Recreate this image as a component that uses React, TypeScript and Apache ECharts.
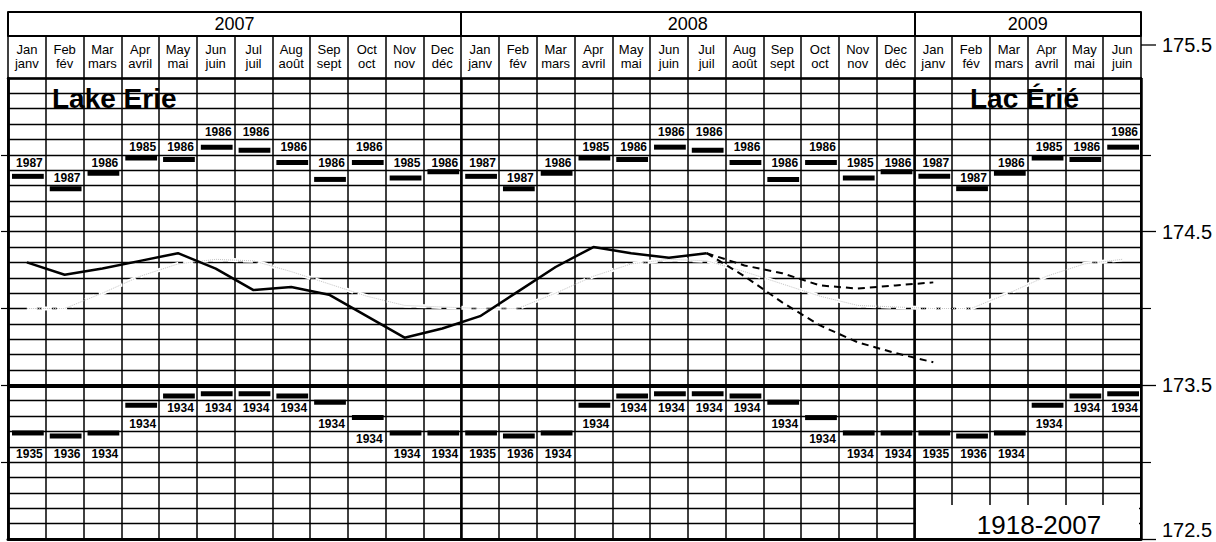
import React, { useEffect, useRef } from 'react';
import * as echarts from 'echarts';

// ---------- data ----------
const monthNames = ['Jan\njanv', 'Feb\nfév', 'Mar\nmars', 'Apr\navril', 'May\nmai', 'Jun\njuin', 'Jul\njuil', 'Aug\naoût', 'Sep\nsept', 'Oct\noct', 'Nov\nnov', 'Dec\ndéc'];
const years = ['2007', '2008', '2009'];
const monthsPerYear = [12, 12, 6];

// record monthly highs / lows 1918-2007 (m, IGLD 1985) and the year they occurred
const recordHigh = [174.86, 174.78, 174.88, 174.98, 174.97, 175.05, 175.03, 174.95, 174.84, 174.95, 174.85, 174.89];
const recordHighYear = ['1987', '1987', '1986', '1985', '1986', '1986', '1986', '1986', '1986', '1986', '1985', '1986'];
const recordLow = [173.19, 173.17, 173.19, 173.37, 173.43, 173.445, 173.445, 173.43, 173.39, 173.29, 173.19, 173.19];
const recordLowYear = ['1935', '1936', '1934', '1934', '1934', '1934', '1934', '1934', '1934', '1934', '1934', '1934'];

// long-term monthly mean 1918-2007
const longTermMean = [174.0, 174.0, 174.1, 174.21, 174.29, 174.32, 174.31, 174.24, 174.16, 174.08, 174.02, 174.01];

// recorded monthly mean levels, Jan 2007 - Jul 2008
const recorded = [174.30, 174.22, 174.26, 174.31, 174.36, 174.26, 174.12, 174.14, 174.09, 173.95, 173.81, 173.87,
  173.95, 174.11, 174.27, 174.40, 174.36, 174.33, 174.36];
// forecast envelopes, Jul 2008 - Jan 2009
const forecastStart = 18;
const forecastUpper = [174.36, 174.28, 174.23, 174.15, 174.13, 174.15, 174.17];
const forecastLower = [174.36, 174.21, 174.04, 173.89, 173.78, 173.71, 173.65];

const yTickLabels = [172.5, 173.5, 174.5, 175.5];
const yMajorTicks = [172.5, 173.5, 174.5];
const yMinorTicks = [173, 174, 175];
const yLeftTicks = [173, 173.5, 174, 174.5, 175];
const titleEn = 'Lake Erie';
const titleFr = 'Lac Érié';
const periodLabel = '1918-2007';

// ---------- derived ----------
const cats: string[] = [];
years.forEach((y, k) => {
  for (let m = 0; m < monthsPerYear[k]; m++) cats.push(`${y}-${m + 1}`);
});
const nMonths = cats.length;
const yearBounds: number[] = [0];
monthsPerYear.forEach((n, k) => yearBounds.push(yearBounds[k] + n));
const yearCenters = monthsPerYear.map((n, k) => yearBounds[k] + n / 2);

const meanData = cats.map((_, i) => longTermMean[i % 12]);
const recordedData = cats.map((_, i) => (i < recorded.length ? recorded[i] : null));
const fcData = (arr: number[]) =>
  cats.map((_, i) => (i >= forecastStart && i - forecastStart < arr.length ? arr[i - forecastStart] : null));
const highData = cats.map((_, i) => [i, recordHigh[i % 12]]);
const lowData = cats.map((_, i) => [i, recordLow[i % 12]]);

const baseFont = '"Liberation Sans", Arial, Helvetica, sans-serif';

const makeBarRender = (labels: string[], side: 'high' | 'low') => (params: any, api: any) => {
  const idx = api.value(0);
  const val = api.value(1);
  const pt = api.coord([idx, val]);
  const cellW = api.size([1, 0])[0];
  const barW = cellW - 6;
  const row = Math.floor(val * 10 + 1e-6) / 10;
  const labelVal = side === 'high' ? row + 0.15 : row - 0.05;
  const ly = api.coord([idx, labelVal])[1];
  return {
    type: 'group',
    children: [
      {
        type: 'rect',
        shape: { x: pt[0] - barW / 2 + 1, y: pt[1] - 2.5, width: barW, height: 5 },
        style: { fill: '#000' },
      },
      {
        type: 'text',
        x: pt[0] + cellW / 2 - 3,
        y: ly,
        style: {
          text: labels[params.dataIndex % 12],
          fill: '#000',
          fontSize: 12,
          fontWeight: 'bold',
          fontFamily: baseFont,
          align: 'right',
          verticalAlign: 'middle',
        },
      },
    ],
  };
};

export default function App() {
  const ref = useRef<HTMLDivElement>(null);

  useEffect(() => {
    if (!ref.current) return;
    const chart = echarts.init(ref.current, null, { renderer: 'svg' });
    const black = '#000';
    const yMin = yTickLabels[0];
    const yMax = yTickLabels[yTickLabels.length - 1];
    const option: any = {
      animation: false,
      backgroundColor: '#fff',
      textStyle: { fontFamily: baseFont, color: black },
      grid: { left: 8, right: 75, top: 78, bottom: 3, containLabel: false, outerBoundsMode: 'none' },
      xAxis: [
        {
          type: 'category',
          data: cats,
          position: 'top',
          boundaryGap: true,
          axisLine: { show: true, onZero: false, lineStyle: { color: black, width: 2.5 } },
          axisTick: { show: true, interval: 0, length: 42, lineStyle: { color: black, width: 1.5 } },
          axisLabel: {
            interval: 0,
            formatter: (_v: string, i: number) => monthNames[i % 12],
            fontSize: 13,
            lineHeight: 14,
            margin: 8,
            color: black,
            fontFamily: baseFont,
          },
          splitLine: { show: true, interval: 0, lineStyle: { color: black, width: 1.5 } },
        },
        {
          type: 'value',
          min: 0,
          max: nMonths,
          position: 'top',
          offset: 42,
          axisLine: { show: true, onZero: false, lineStyle: { color: black, width: 2 } },
          axisTick: { show: true, customValues: yearBounds, length: 24, lineStyle: { color: black, width: 2 } },
          axisLabel: {
            show: true,
            customValues: yearCenters,
            formatter: (v: number) => years[yearCenters.indexOf(v)],
            fontSize: 18,
            lineHeight: 18,
            margin: 3,
            color: black,
            fontFamily: baseFont,
          },
          splitLine: { show: true, lineStyle: { color: black, width: 2.5 } },
        },
        {
          type: 'value',
          min: 0,
          max: nMonths,
          position: 'top',
          offset: 66,
          axisLine: { show: true, onZero: false, lineStyle: { color: black, width: 2 } },
          axisTick: { show: false },
          axisLabel: { show: false },
          splitLine: { show: false },
        },
        {
          type: 'value',
          min: 0,
          max: nMonths,
          position: 'bottom',
          axisLine: { show: true, onZero: false, lineStyle: { color: black, width: 3 } },
          axisTick: { show: false },
          axisLabel: { show: false },
          splitLine: { show: false },
        },
      ],
      yAxis: [
        {
          type: 'value',
          min: yMin,
          max: yMax,
          interval: 0.1,
          position: 'left',
          axisLine: { show: true, onZero: false, lineStyle: { color: black, width: 2.5 } },
          axisTick: { show: false },
          axisLabel: { show: false },
          splitLine: { show: true, lineStyle: { color: black, width: 1.3 } },
        },
        {
          type: 'value',
          min: yMin,
          max: yMax,
          position: 'right',
          axisLine: { show: true, onZero: false, lineStyle: { color: black, width: 2 } },
          axisTick: { show: true, customValues: yMajorTicks, length: 15, lineStyle: { color: black, width: 1.3 } },
          axisLabel: {
            show: true,
            customValues: yTickLabels,
            formatter: (v: number) =>
              v === yMax ? '{up|' + v.toFixed(1) + '}' : v === yMin ? '{low|' + v.toFixed(1) + '}' : v.toFixed(1),
            fontSize: 20,
            margin: 21,
            color: black,
            fontFamily: baseFont,
            rich: {
              up: { fontSize: 20, fontFamily: baseFont, color: black, padding: [0, 0, 66, 0] },
              low: { fontSize: 20, fontFamily: baseFont, color: black, padding: [0, 0, 18, 0] },
            },
          },
          splitLine: { show: false },
        },
        {
          type: 'value',
          min: yMin,
          max: yMax,
          position: 'left',
          axisLine: { show: false, onZero: false },
          axisTick: { show: true, customValues: yLeftTicks, length: 7, lineStyle: { color: black, width: 1.2 } },
          axisLabel: { show: false },
          splitLine: { show: false },
        },
        {
          type: 'value',
          min: yMin,
          max: yMax,
          position: 'right',
          axisLine: { show: false, onZero: false },
          axisTick: { show: true, customValues: yMinorTicks, length: 10, lineStyle: { color: black, width: 1.2 } },
          axisLabel: { show: false },
          splitLine: { show: false },
        },
      ],
      series: [
        {
          type: 'line',
          name: 'mean-knockout',
          data: meanData,
          symbol: 'none',
          silent: true,
          lineStyle: { color: '#fff', width: 4, type: [10, 5] },
          z: 2,
        },
        {
          type: 'line',
          name: 'Long-term mean',
          data: meanData,
          symbol: 'none',
          silent: true,
          lineStyle: { color: '#c4c4c4', width: 1, type: 'dotted' },
          z: 3,
        },
        {
          type: 'line',
          name: 'Recorded',
          data: recordedData,
          symbol: 'none',
          connectNulls: false,
          lineStyle: { color: black, width: 2.5 },
          z: 4,
          markLine: {
            silent: true,
            symbol: 'none',
            label: { show: false },
            lineStyle: { color: black, width: 4, type: 'solid' },
            data: [{ yAxis: 173.5 }],
          },
        },
        {
          type: 'line',
          name: 'Forecast upper',
          data: fcData(forecastUpper),
          symbol: 'none',
          lineStyle: { color: black, width: 2, type: [7, 5] },
          z: 4,
        },
        {
          type: 'line',
          name: 'Forecast lower',
          data: fcData(forecastLower),
          symbol: 'none',
          lineStyle: { color: black, width: 2, type: [7, 5] },
          z: 4,
        },
        {
          type: 'custom',
          name: 'Record high',
          data: highData,
          renderItem: makeBarRender(recordHighYear, 'high'),
          z: 5,
        },
        {
          type: 'custom',
          name: 'Record low',
          data: lowData,
          renderItem: makeBarRender(recordLowYear, 'low'),
          z: 5,
        },
      ],
      graphic: [
        {
          type: 'text',
          x: 52,
          y: 98,
          z: 20,
          style: { text: titleEn, fill: black, fontSize: 28, fontWeight: 'bold', fontFamily: baseFont, align: 'left', verticalAlign: 'middle' },
        },
        {
          type: 'text',
          x: 970,
          y: 98,
          z: 20,
          style: { text: titleFr, fill: black, fontSize: 28, fontWeight: 'bold', fontFamily: baseFont, align: 'left', verticalAlign: 'middle' },
        },
        {
          type: 'rect',
          z: 50,
          shape: { x: 916, y: 505, width: 223, height: 33 },
          style: { fill: '#fff' },
        },
        {
          type: 'text',
          x: 1039,
          y: 525,
          z: 51,
          style: { text: periodLabel, fill: black, fontSize: 26, fontFamily: baseFont, align: 'center', verticalAlign: 'middle' },
        },
        {
          type: 'line',
          z: 20,
          shape: { x1: 1141, y1: 45, x2: 1156, y2: 45 },
          style: { stroke: black, lineWidth: 1.3 },
        },
      ],
    };
    chart.setOption(option);
    return () => chart.dispose();
  }, []);

  return <div ref={ref} style={{ position: 'fixed', left: 0, top: 0, width: 1216, height: 542 }} />;
}
